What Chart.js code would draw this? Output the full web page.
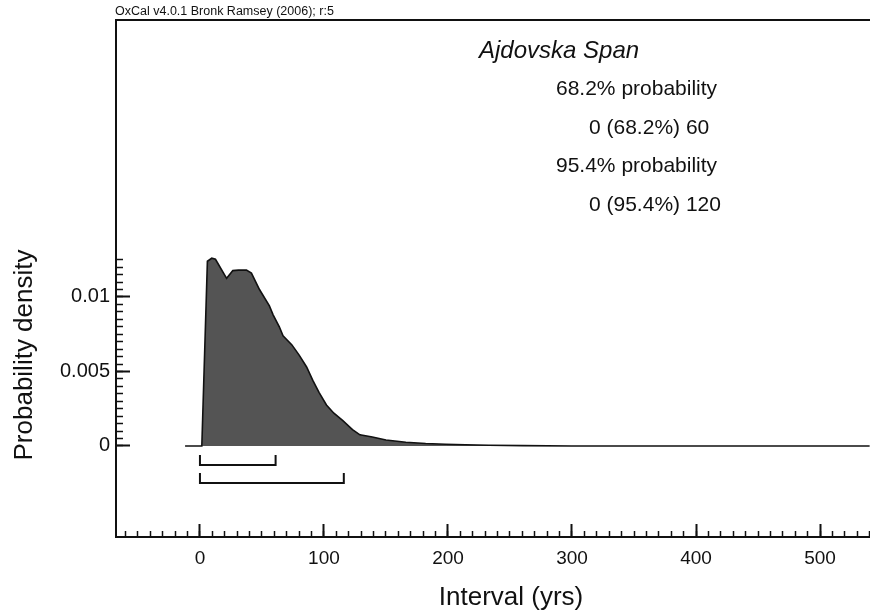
<!DOCTYPE html>
<html>
<head>
<meta charset="utf-8">
<script src="https://cdn.jsdelivr.net/npm/chart.js@4.4.1/dist/chart.umd.min.js"></script>
<style>
  html, body { margin: 0; padding: 0; background: #ffffff; overflow: hidden; }
  #wrap { width: 870px; height: 611px; }
</style>
</head>
<body>
<div id="wrap"><canvas id="c" width="870" height="611"></canvas></div>
<script>
// ---- data ----
const years   = [-12, 1.5, 6, 9.5, 12.5, 21.5, 26.5, 31, 37.5, 41.5, 48, 56, 59, 64, 67, 74, 80, 86, 91, 96, 102, 108, 115, 123, 129, 139, 150, 166, 182, 198, 214, 233, 260, 300, 540];
const density = [0, 0, 0.0124, 0.0126, 0.01253, 0.01125, 0.01177, 0.0118, 0.0118, 0.0116, 0.0105, 0.0094, 0.0088, 0.0080, 0.0074, 0.0068, 0.0061, 0.0053, 0.0044, 0.0036, 0.00275, 0.0022, 0.00172, 0.0011, 0.00075, 0.0006, 0.0004, 0.00025, 0.00017, 0.00012, 0.00008, 0.00005, 0.00002, 0, 0];

const xMajorTicks = [0, 100, 200, 300, 400, 500];
const xTickLabels = ['0', '100', '200', '300', '400', '500'];
const yMajorTicks = [0, 0.005, 0.01];
const yTickLabels = ['0', '0.005', '0.01'];

const range68 = [0, 61];
const range95 = [0, 116];

const title = 'Ajdovska Span';
const summaryLines = ['68.2% probability', '0 (68.2%) 60', '95.4% probability', '0 (95.4%) 120'];
const creditText = 'OxCal v4.0.1 Bronk Ramsey (2006); r:5';
const xTitle = 'Interval (yrs)';
const yTitle = 'Probability density';

// ---- axis extents ----
const X_MIN = -67.7, X_MAX = 540.3;
const Y_MIN = -0.00611, Y_MAX = 0.02859;
const X_MINOR_STEP = 10, Y_MINOR_STEP = 0.0005;
const xMinorTicks = [];
for (let v = -60; v <= 540; v += X_MINOR_STEP) xMinorTicks.push(v);
const yMinorTicks = [];
for (let k = 0; k <= 25; k++) yMinorTicks.push(+(k * Y_MINOR_STEP).toFixed(4));

const INK = '#111111';
const FONT = "'Liberation Sans', Arial, Helvetica, sans-serif";

const points = years.map((x, i) => ({ x: x, y: density[i] }));

function fixBox(size, horizontal) {
  return s => {
    if (horizontal) s.height = size; else s.width = size;
    s.paddingTop = 0; s.paddingBottom = 0; s.paddingLeft = 0; s.paddingRight = 0;
  };
}

const overlay = {
  id: 'overlay',
  afterDraw(chart) {
    const { ctx, chartArea, scales } = chart;
    const xs = scales.x, ys = scales.y;
    ctx.save();
    ctx.strokeStyle = INK;
    ctx.lineWidth = 2;
    ctx.lineCap = 'butt';
    // top frame line
    ctx.beginPath();
    ctx.moveTo(chartArea.left - 1, chartArea.top);
    ctx.lineTo(chartArea.right, chartArea.top);
    ctx.stroke();
    // range brackets
    const y0 = ys.getPixelForValue(0);
    [[range68, 19, 9], [range95, 37, 27]].forEach(([r, low, high]) => {
      const a = xs.getPixelForValue(r[0]);
      const b = xs.getPixelForValue(r[1]);
      ctx.beginPath();
      ctx.moveTo(a, y0 + high);
      ctx.lineTo(a, y0 + low);
      ctx.lineTo(b, y0 + low);
      ctx.lineTo(b, y0 + high);
      ctx.stroke();
    });
    // texts
    ctx.fillStyle = INK;
    ctx.textBaseline = 'alphabetic';
    ctx.textAlign = 'left';
    ctx.font = '12.5px ' + FONT;
    ctx.fillText(creditText, chartArea.left - 1, 15);
    ctx.font = 'italic 24px ' + FONT;
    ctx.fillText(title, 479, 58);
    ctx.font = '21px ' + FONT;
    const lx = [556, 589, 556, 589];
    const ly = [95, 134, 172, 211];
    summaryLines.forEach((t, i) => ctx.fillText(t, lx[i], ly[i]));
    // axis titles
    ctx.font = '26px ' + FONT;
    ctx.textAlign = 'center';
    ctx.fillText(xTitle, 511, 605);
    ctx.save();
    ctx.translate(32, 355);
    ctx.rotate(-Math.PI / 2);
    ctx.fillText(yTitle, 0, 0);
    ctx.restore();
    ctx.restore();
  }
};

new Chart(document.getElementById('c'), {
  type: 'line',
  data: {
    datasets: [{
      data: points,
      xAxisID: 'x',
      yAxisID: 'y',
      fill: 'origin',
      backgroundColor: '#545454',
      borderColor: INK,
      borderWidth: 1.6,
      pointRadius: 0,
      tension: 0
    }]
  },
  options: {
    responsive: false,
    animation: false,
    layout: { padding: { top: 20, left: 0, right: 0, bottom: 0 } },
    plugins: { legend: { display: false }, tooltip: { enabled: false }, title: { display: false } },
    scales: {
      x: {
        type: 'linear', position: 'bottom', min: X_MIN, max: X_MAX, weight: 1,
        afterFit: fixBox(74, true),
        afterBuildTicks: s => { s.ticks = xMajorTicks.map(v => ({ value: v })); },
        ticks: {
          autoSkip: false, maxRotation: 0, padding: 23, color: INK,
          font: { family: FONT, size: 19 },
          callback: (v, i) => xTickLabels[i]
        },
        grid: { drawOnChartArea: false, drawTicks: true, tickLength: -13, tickWidth: 2, tickColor: INK },
        border: { display: true, width: 2, color: INK }
      },
      x2: {
        type: 'linear', position: 'bottom', min: X_MIN, max: X_MAX, weight: 0,
        afterFit: fixBox(0, true),
        afterBuildTicks: s => { s.ticks = xMinorTicks.map(v => ({ value: v })); },
        ticks: { autoSkip: false, maxRotation: 0, padding: 0, callback: () => '' },
        grid: { drawOnChartArea: false, drawTicks: true, tickLength: -6, tickWidth: 1.5, tickColor: INK },
        border: { display: false }
      },
      y: {
        type: 'linear', position: 'left', min: Y_MIN, max: Y_MAX, weight: 1,
        afterFit: fixBox(116, false),
        afterBuildTicks: s => { s.ticks = yMajorTicks.map(v => ({ value: v })); },
        ticks: {
          autoSkip: false, padding: 20, color: INK,
          font: { family: FONT, size: 20 },
          callback: (v, i) => yTickLabels[i]
        },
        grid: { drawOnChartArea: false, drawTicks: true, tickLength: -14, tickWidth: 2, tickColor: INK },
        border: { display: true, width: 2, color: INK }
      },
      y2: {
        type: 'linear', position: 'left', min: Y_MIN, max: Y_MAX, weight: 0,
        afterFit: fixBox(0, false),
        afterBuildTicks: s => { s.ticks = yMinorTicks.map(v => ({ value: v })); },
        ticks: { autoSkip: false, padding: 0, callback: () => '' },
        grid: { drawOnChartArea: false, drawTicks: true, tickLength: -7, tickWidth: 1.5, tickColor: INK },
        border: { display: false }
      }
    }
  },
  plugins: [overlay]
});
</script>
</body>
</html>
